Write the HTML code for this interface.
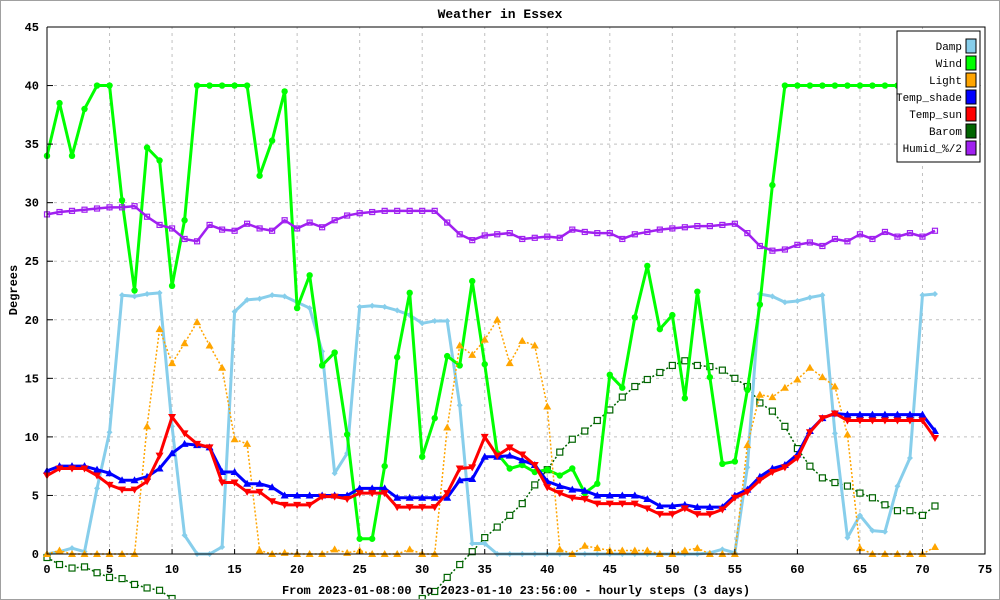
<!DOCTYPE html>
<html><head><meta charset="utf-8"><style>
html,body{margin:0;padding:0;background:#fff;width:1000px;height:600px;overflow:hidden;}
svg{display:block;font-family:"Liberation Mono",monospace;}
</style></head><body>
<svg id="chart" width="1000" height="600" viewBox="0 0 1000 600" xmlns="http://www.w3.org/2000/svg">
<defs><clipPath id="cp"><rect x="0" y="0" width="1000" height="599"/></clipPath></defs>
<rect x="0.5" y="0.5" width="999" height="599" fill="#fff" stroke="#a0a0a0"/>
<g id="grid"></g>
<g id="series" clip-path="url(#cp)"></g>
<g id="axes"></g>
<text x="500" y="18" text-anchor="middle" font-size="13" font-weight="bold">Weather in Essex</text>
<text transform="translate(17,290) rotate(-90)" text-anchor="middle" font-size="12" font-weight="bold">Degrees</text>
<text x="516" y="594" text-anchor="middle" font-size="12" font-weight="bold">From 2023-01-08:00 To 2023-01-10 23:56:00 - hourly steps (3 days)</text>
<g id="legend"></g>
</svg>
<script>
const xTicks=[0,5,10,15,20,25,30,35,40,45,50,55,60,65,70,75];
const yTicks=[0,5,10,15,20,25,30,35,40,45];
const seriesNames=["Damp","Wind","Light","Temp_shade","Temp_sun","Barom","Humid_%/2"];
const damp=[0,0.2,0.5,0.2,5.6,10.4,22.1,22,22.2,22.3,10.9,1.6,0,0,0.6,20.7,21.7,21.8,22.1,22,21.5,21,17.3,6.9,8.6,21.1,21.2,21.1,20.8,20.4,19.7,19.9,19.9,12.7,0.9,0.9,0,0,0,0,0,0,0,0,0,0,0,0,0,0,0,0,0,0.1,0.4,0.1,7.4,22.2,22.0,21.5,21.6,21.9,22.1,10.3,1.4,3.3,2.0,1.9,5.8,8.2,22.1,22.2];
const wind=[34,38.5,34,38,40,40,30.2,22.5,34.7,33.6,22.9,28.5,40,40,40,40,40,32.3,35.3,39.5,21,23.8,16.1,17.2,10.2,1.3,1.3,7.5,16.8,22.3,8.3,11.6,16.9,16.1,23.3,16.2,8.6,7.3,7.6,7.0,7.2,6.7,7.3,5.2,6.0,15.3,14.2,20.2,24.6,19.2,20.4,13.3,22.4,15.1,7.7,7.9,14.0,21.3,31.5,40,40,40,40,40,40,40,40,40,40,40,40,40];
const light=[0,0.3,0,0,0,0,0,0,10.9,19.2,16.3,18,19.8,17.8,15.9,9.8,9.4,0.3,0,0.1,0,0,0,0.4,0.1,0.3,0,0,0,0.4,0,0,10.8,17.8,17,18.3,20,16.3,18.2,17.8,12.6,0.4,0,0.7,0.5,0.3,0.3,0.3,0.3,0,0,0.3,0.5,0,0,0,9.3,13.6,13.4,14.2,14.9,15.9,15.1,14.3,10.2,0.5,0,0,0,0,0,0.6];
const tempShade=[7.1,7.5,7.5,7.5,7.2,6.9,6.3,6.3,6.6,7.3,8.6,9.4,9.3,9.1,7,7,6,6,5.7,5,5,5,5,5,5,5.6,5.6,5.6,4.8,4.8,4.8,4.8,4.8,6.3,6.4,8.3,8.3,8.4,8,7.6,6.2,5.8,5.5,5.4,5,5,5,5,4.7,4.1,4.1,4.2,4,4,4,5,5.5,6.6,7.3,7.6,8.5,10.5,11.6,12,11.9,11.9,11.9,11.9,11.9,11.9,11.9,10.5];
const tempSun=[6.7,7.3,7.3,7.3,6.7,5.9,5.5,5.5,6.2,8.4,11.7,10.3,9.4,9.1,6.1,6.1,5.3,5.3,4.5,4.2,4.2,4.2,4.9,4.9,4.7,5.2,5.2,5.2,4,4,4,4,5.2,7.3,7.4,10,8.4,9.1,8.5,7.6,5.7,5.2,4.8,4.7,4.3,4.3,4.3,4.3,3.9,3.4,3.4,3.9,3.4,3.4,3.8,4.8,5.3,6.3,7.0,7.4,8.2,10.4,11.6,12,11.4,11.4,11.4,11.4,11.4,11.4,11.4,9.9];
const barom=[-0.3,-0.9,-1.2,-1.1,-1.6,-2.0,-2.1,-2.6,-2.9,-3.1,-3.8,-4.3,-4.8,-5.2,-5.6,-6.0,-6.3,-6.6,-6.9,-7.1,-7.3,-7.4,-7.4,-7.3,-7.1,-6.8,-6.4,-5.9,-5.3,-4.6,-3.8,-3.2,-2.0,-0.9,0.2,1.4,2.3,3.3,4.3,5.9,7.2,8.7,9.8,10.5,11.4,12.3,13.4,14.3,14.9,15.5,16.1,16.5,16.1,16.0,15.7,15.0,14.3,12.9,12.2,10.9,9.0,7.5,6.5,6.1,5.8,5.2,4.8,4.2,3.7,3.7,3.3,4.1];
const humid=[29,29.2,29.3,29.4,29.5,29.6,29.6,29.7,28.8,28.1,27.8,26.9,26.7,28.1,27.7,27.6,28.2,27.8,27.6,28.5,27.8,28.3,27.9,28.5,28.9,29.1,29.2,29.3,29.3,29.3,29.3,29.3,28.3,27.3,26.8,27.2,27.3,27.4,26.9,27,27.1,27,27.7,27.5,27.4,27.4,26.9,27.3,27.5,27.7,27.8,27.9,28,28,28.1,28.2,27.4,26.3,25.9,26,26.4,26.6,26.3,26.9,26.7,27.3,26.9,27.5,27.1,27.4,27.1,27.6];

const NS="http://www.w3.org/2000/svg";
const X0=47,X1=985,Y0=554,Y1=27;
function xs(v){return X0+(v-0)*(X1-X0)/75;}
function ys(v){return Y0-(v-0)*(Y0-Y1)/45;}
function mk(tag,attrs,parent){const e=document.createElementNS(NS,tag);for(const k in attrs)e.setAttribute(k,attrs[k]);parent.appendChild(e);return e;}
const grid=document.getElementById('grid'),axes=document.getElementById('axes'),ser=document.getElementById('series'),leg=document.getElementById('legend');

xTicks.forEach(t=>{
  if(t>0&&t<75){const l=mk('line',{x1:xs(t),x2:xs(t),y1:Y0,y2:Y1,stroke:'#c0c0c0','stroke-dasharray':'3,4'},grid);
  
  }
  const tk=mk('line',{x1:xs(t),x2:xs(t),y1:Y0,y2:Y0-5,stroke:'#000'},axes);
  
  
  const tx=mk('text',{x:xs(t),y:Y0+19,'text-anchor':'middle','font-size':'12','font-weight':'bold'},axes);
  
  
  tx.textContent=t;
});
yTicks.forEach(t=>{
  if(t>0&&t<45){const l=mk('line',{x1:X0,x2:X1,y1:ys(t),y2:ys(t),stroke:'#c0c0c0','stroke-dasharray':'3,4'},grid);
  
  }
  const tk=mk('line',{x1:X0,x2:X0+6,y1:ys(t),y2:ys(t),stroke:'#000'},axes);
  
  
  const tx=mk('text',{x:X0-8,y:ys(t)+4,'text-anchor':'end','font-size':'12','font-weight':'bold'},axes);
  
  
  tx.textContent=t;
});
const fr=mk('path',{d:`M${X0},${Y1}V${Y0}H${X1}V${Y1}H${X0}`,fill:'none',stroke:'#000','stroke-width':1},axes);



function marker(type,x,y,color,g){
  let e;
  if(type==='circle')e=mk('circle',{cx:x,cy:y,r:3.2,fill:color},g);
  else if(type==='diamond')e=mk('path',{d:`M${x},${y-3}L${x+3},${y}L${x},${y+3}L${x-3},${y}Z`,fill:color},g);
  else if(type==='tri-up')e=mk('path',{d:`M${x},${y-4}L${x+4},${y+3}L${x-4},${y+3}Z`,fill:color},g);
  else if(type==='tri-down')e=mk('path',{d:`M${x},${y+4}L${x+4},${y-3}L${x-4},${y-3}Z`,fill:color},g);
  else if(type==='square')e=mk('rect',{x:x-3,y:y-3,width:6,height:6,fill:'#fff',stroke:color,'stroke-width':1.2},g);
  else if(type==='box')e=mk('rect',{x:x-2.5,y:y-2.5,width:5,height:5,fill:'none',stroke:color,'stroke-width':1.2},g);
  return e;
}
function drawSeries(name,vals,color,width,dash,mtype){
  const g=mk('g',{},ser);
  
  
  const pts=vals.map((v,i)=>xs(i)+','+ys(v)).join(' ');
  const pl=mk('polyline',{points:pts,fill:'none',stroke:color,'stroke-width':width,'stroke-linejoin':'round'},g);
  if(dash)pl.setAttribute('stroke-dasharray',dash);
  
  
  vals.forEach((v,i)=>{
    const m=marker(mtype,xs(i),ys(v),color,g);
    
    
  });
}
drawSeries('barom',barom,'#006400',1.5,'2,2','square');
drawSeries('damp',damp,'#87ceeb',3,null,'diamond');
drawSeries('wind',wind,'#00ff00',3,null,'circle');
drawSeries('light',light,'#ffa500',1.5,'2,2','tri-up');
drawSeries('temp-shade',tempShade,'#0000ff',3,null,'tri-up');
drawSeries('temp-sun',tempSun,'#ff0000',3,null,'tri-down');
drawSeries('humid',humid,'#a020f0',2.5,null,'box');

const legColors=['#87ceeb','#00ff00','#ffa500','#0000ff','#ff0000','#006400','#a020f0'];
const lb=mk('rect',{x:897,y:31,width:83,height:131,fill:'#fff',stroke:'#000'},leg);


seriesNames.forEach((n,i)=>{
  const y=46+i*17;
  const t=mk('text',{x:962,y:y+4,'text-anchor':'end','font-size':'11'},leg);
  
  
  t.textContent=n;
  const s=mk('rect',{x:966,y:y-7,width:10,height:14,fill:legColors[i],stroke:'#000'},leg);
  
  
});
</script>
</body></html>
